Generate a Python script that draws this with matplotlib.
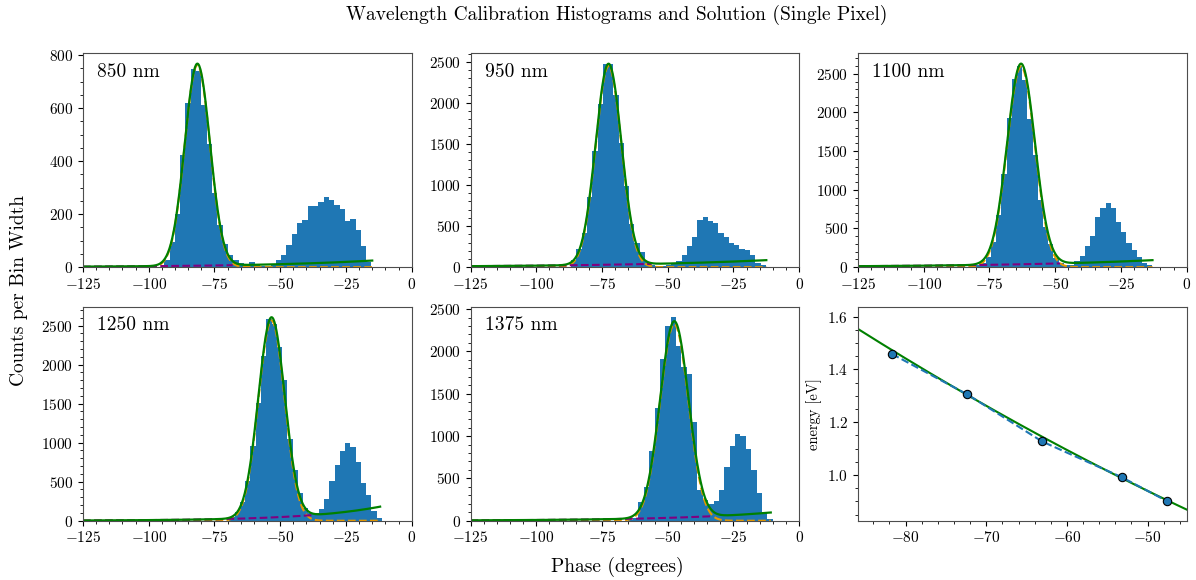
import numpy as np
import matplotlib
matplotlib.use("Agg")
import matplotlib.pyplot as plt
from matplotlib.ticker import MultipleLocator, AutoMinorLocator

plt.rcParams['font.family'] = ['cmr10', 'DejaVu Serif']
plt.rcParams['mathtext.fontset'] = 'cm'
plt.rcParams['axes.formatter.use_mathtext'] = True
plt.rcParams['axes.unicode_minus'] = True

# wavelengths of the calibration lasers
wavelengths = [850, 950, 1100, 1250, 1375]

# histogram counts per bin, first bin edge, last bin edge
counts_850 = [28, 94, 200, 424, 620, 748, 738, 612, 465, 280, 157, 88, 44, 25, 15, 10,
              18, 8, 6, 6, 8, 25, 44, 82, 124, 167, 177, 231, 231, 246, 265, 252, 236,
              221, 173, 183, 139, 78, 19]
counts_950 = [85, 215, 420, 860, 1415, 1990, 2475, 2480, 2100, 1515, 990, 530, 300, 187,
              60, 25, 15, 12, 20, 45, 73, 146, 260, 362, 573, 614, 565, 532, 410, 362,
              289, 268, 220, 207, 146, 53, 25]
counts_1100 = [26, 47, 134, 328, 674, 1205, 1930, 2430, 2603, 2420, 1920, 1450, 868, 522,
               298, 112, 47, 26, 22, 78, 142, 272, 402, 643, 768, 825, 760, 579, 449, 315,
               220, 134, 56, 26]
counts_1250 = [52, 116, 236, 503, 962, 1512, 2105, 2586, 2521, 2230, 1800, 1048, 644, 361,
               159, 94, 94, 150, 275, 503, 717, 889, 1001, 945, 747, 481, 331, 125, 39]
counts_1375 = [8, 28, 218, 404, 820, 1326, 1908, 2304, 2403, 2067, 1821, 1738, 1164, 364,
               245, 198, 234, 364, 633, 887, 1029, 998, 851, 594, 333, 107, 16]
all_counts = [counts_850, counts_950, counts_1100, counts_1250, counts_1375]
hist_start = [-94.1, -86.7, -80.4, -69.3, -65.2]
hist_stop = [-15.3, -12.7, -13.0, -11.3, -10.1]

# fit parameters: gaussian (center, sigma, amplitude), exponential background (A, k)
fit_center = [-81.5, -72.5, -63.0, -53.3, -47.5]
fit_sigma = [4.8, 4.9, 5.3, 5.0, 5.4]
fit_amp = [762, 2450, 2595, 2565, 2320]
bg_amp = [35, 106, 114, 276, 130]
bg_rate = [0.023, 0.0177, 0.018, 0.0355, 0.027]
bg_end = [-68, -56, -48, -38, -33]
fit_end = [-15, -12.5, -13, -12, -10.8]
y_major = [200, 500, 500, 500, 500]

# calibration solution
cal_phase = [-81.7, -72.34, -63.08, -53.22, -47.63]
cal_energy = [1.4586, 1.3051, 1.1271, 0.9919, 0.9017]
cal_fit = [6.1e-5, -0.00879, 0.3479]  # energy = a*phase^2 + b*phase + c

fig, axes = plt.subplots(2, 3, figsize=(11.96, 5.8), dpi=100)
fig.subplots_adjust(left=0.0694, right=0.9922, bottom=0.1022, top=0.9078,
                    wspace=0.179, hspace=0.187)

for i, ax in enumerate(axes.flat[:5]):
    counts = all_counts[i]
    edges = np.linspace(hist_start[i], hist_stop[i], len(counts) + 1)
    ax.stairs(counts, edges, fill=True, color='tab:blue')

    x = np.linspace(-125, fit_end[i], 600)
    gauss = fit_amp[i] * np.exp(-0.5 * ((x - fit_center[i]) / fit_sigma[i]) ** 2)
    bg = bg_amp[i] * np.exp(bg_rate[i] * x)
    xb = x[x <= bg_end[i]]
    ax.plot(x, gauss, '--', color='#e69a00', lw=1.5)
    ax.plot(xb, bg_amp[i] * np.exp(bg_rate[i] * xb), '--', color='purple', lw=1.5)
    ax.plot(x, gauss + bg, '-', color='green', lw=1.6)

    ax.set_xlim(-125, 0)
    ax.xaxis.set_major_locator(MultipleLocator(25))
    ax.yaxis.set_major_locator(MultipleLocator(y_major[i]))
    ax.text(0.043, 0.915, f'{wavelengths[i]} nm', transform=ax.transAxes,
            fontsize=14, va='center', ha='left')

ax = axes.flat[5]
xs = np.linspace(-85.9, -45.16, 300)
ax.plot(xs, np.polyval(cal_fit, xs), '-', color='green', lw=1.5)
ax.plot(cal_phase, cal_energy, '--', color='tab:blue', lw=1.5)
ax.plot(cal_phase, cal_energy, 'o', color='tab:blue', mec='black', mew=0.8, ms=6)
ax.set_xlim(-85.9, -45.16)
ax.set_ylim(0.827, 1.636)
ax.xaxis.set_major_locator(MultipleLocator(10))
ax.yaxis.set_major_locator(MultipleLocator(0.2))
ax.set_ylabel('energy [eV]', fontsize=10.5)

for ax in axes.flat:
    ax.xaxis.set_minor_locator(AutoMinorLocator())
    ax.yaxis.set_minor_locator(AutoMinorLocator())
    ax.tick_params(labelsize=11)
    for s in ax.spines.values():
        s.set_color('0.3')

fig.text(0.516, 0.974, 'Wavelength Calibration Histograms and Solution (Single Pixel)',
         ha='center', va='center', fontsize=14)
fig.text(0.516, 0.023, 'Phase (degrees)', ha='center', va='center', fontsize=14)
fig.text(0.016, 0.5, 'Counts per Bin Width', ha='center', va='center',
         rotation=90, fontsize=14)

fig.savefig('out.png', dpi=100)
